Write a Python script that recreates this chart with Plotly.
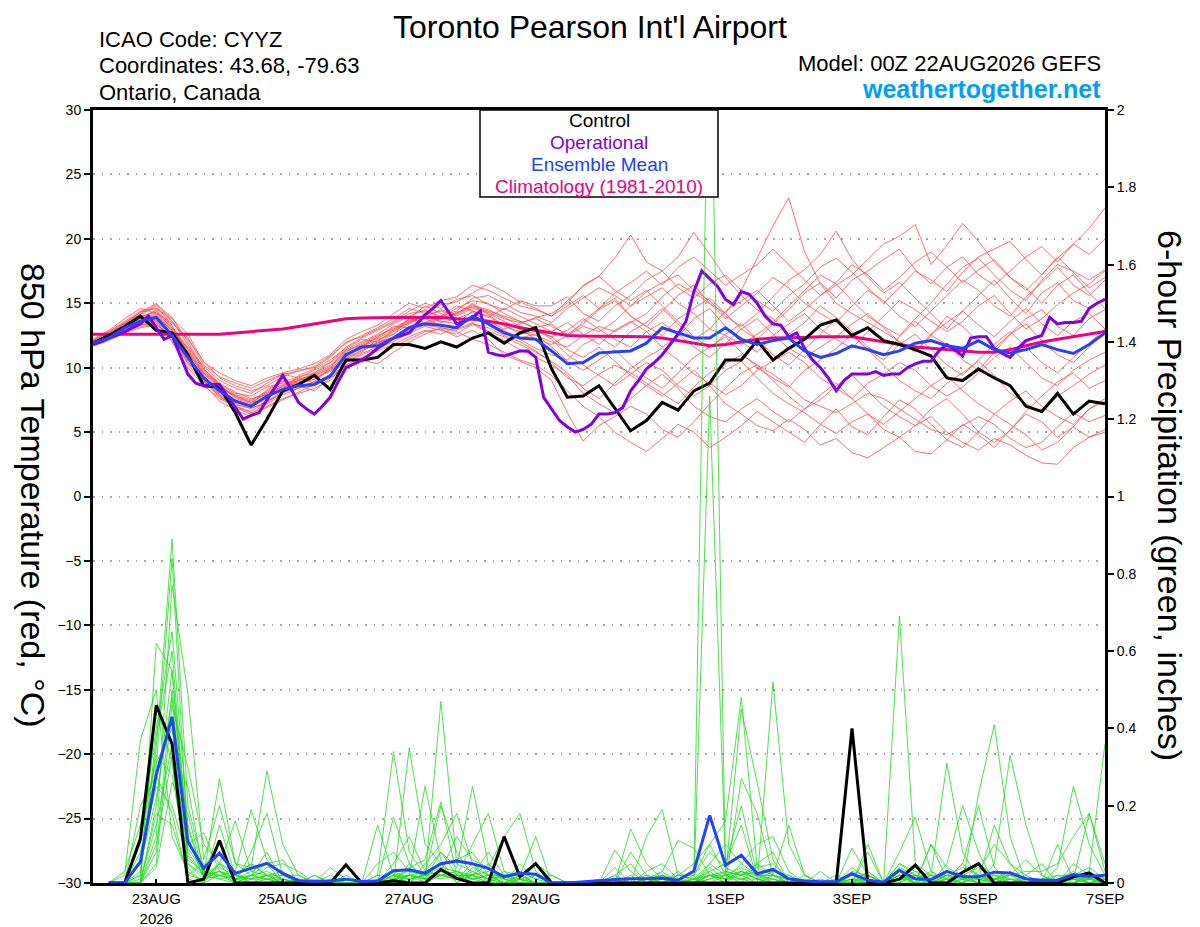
import pandas as pd
import plotly.graph_objects as go

# 6-hourly GEFS steps from 00Z 22AUG2026, operational run is 3-hourly
times = pd.date_range("2026-08-22 00:00", periods=65, freq="6h")
times_3h = pd.date_range("2026-08-22 00:00", periods=129, freq="3h")
precip_times = times[1:]

tick_dates = ["2026-08-23", "2026-08-25", "2026-08-27", "2026-08-29",
              "2026-09-01", "2026-09-03", "2026-09-05", "2026-09-07"]
tick_text = ["23AUG<br>2026", "25AUG", "27AUG", "29AUG", "1SEP", "3SEP", "5SEP", "7SEP"]

control_t = [11.9, 12.5, 13.2, 14.0, 12.9, 12.7, 11.0, 8.6, 8.5, 6.5, 4.0, 6.0, 8.2, 8.7, 9.4, 8.3,
             10.6, 10.6, 10.8, 11.8, 11.8, 11.5, 12.0, 11.6, 12.3, 12.7, 11.9, 12.7, 13.1,
             9.9, 7.7, 7.8, 8.6, 6.9, 5.1, 5.9, 7.3, 6.7, 8.2, 8.8, 10.6, 10.6, 12.1, 10.6, 11.5,
             12.2, 13.3, 13.7, 12.5, 13.1, 12.1, 11.8, 11.4, 10.9, 9.2, 9.0, 9.9, 9.2, 8.6, 7.0,
             6.6, 8.0, 6.4, 7.4, 7.2]

mean_t = [11.9, 12.3, 13.1, 13.6, 13.9, 12.5, 10.8, 9.2, 8.2, 7.4, 7.0, 7.8, 8.3, 8.6, 8.7, 9.35,
          11.0, 11.6, 11.7, 12.3, 13.1, 13.4, 13.3, 13.1, 14.0, 13.4, 12.7, 12.3, 12.2,
          11.3, 10.3, 10.4, 11.15, 11.2, 11.3, 11.9, 13.1, 12.7, 12.3, 12.3, 13.1, 12.2, 11.8,
          12.1, 12.3, 11.3, 10.8, 11.1, 11.7, 11.4, 11.0, 11.3, 11.9, 12.1, 11.7, 11.5, 12.1,
          11.4, 11.15, 11.4, 11.8, 11.4, 11.1, 11.8, 12.7]

oper_t = [11.8, 12.0, 12.3, 12.5, 12.8, 13.1, 13.4, 14.0, 13.1, 12.2,
          12.5, 11.0, 9.5, 8.8, 8.6, 8.7, 8.7, 7.8, 6.9, 6.0,
          6.3, 6.5, 7.5, 8.4, 9.4, 8.4, 7.3, 6.8, 6.4, 7.0,
          7.7, 8.9, 10.0, 10.3, 10.6, 11.0, 11.5, 11.9, 12.3, 12.5,
          12.7, 13.4, 14.1, 14.6, 15.2, 14.3, 13.4, 13.6, 13.9, 14.4,
          11.2, 11.0, 10.9, 11.1, 11.3, 11.3, 10.8, 7.7, 6.8, 5.9,
          5.4, 5.0, 5.2, 5.6, 6.4, 6.4, 6.5, 6.9, 8.2, 9.0,
          9.9, 10.4, 11.0, 11.8, 12.6, 13.6, 15.9, 17.5, 16.9, 16.3,
          15.3, 14.9, 15.9, 15.7, 15.0, 14.0, 13.4, 13.3, 12.4, 12.7,
          11.5, 10.6, 10.0, 9.2, 8.2, 9.0, 9.5, 9.5, 9.5, 9.7,
          9.4, 9.5, 9.5, 10.0, 10.3, 10.5, 10.5, 11.3, 11.8, 11.4,
          10.9, 12.3, 12.4, 12.4, 11.5, 11.1, 10.8, 11.5, 12.1, 12.3,
          12.5, 13.9, 13.4, 13.5, 13.5, 13.6, 14.6, 15.0, 15.3]

clim_t = [12.6, 12.6, 12.6, 12.6, 12.6, 12.6, 12.6, 12.6, 12.6, 12.7, 12.8, 12.9, 13.0, 13.2,
          13.4, 13.6, 13.8, 13.85, 13.9, 13.9, 13.9, 13.9, 13.9, 13.8, 13.75, 13.6, 13.4, 13.1,
          12.9, 12.7, 12.5, 12.45, 12.45, 12.45, 12.45, 12.4, 12.3, 12.1, 11.9, 11.7, 11.8,
          12.0, 12.2, 12.3, 12.3, 12.35, 12.4, 12.4, 12.4, 12.2, 12.0, 11.8, 11.6, 11.5, 11.4,
          11.3, 11.2, 11.2, 11.4, 11.7, 12.0, 12.2, 12.4, 12.6, 12.8]

# ensemble members, 850 hPa temperature: 22-25 Aug, 26-29 Aug, 29 Aug-7 Sep
members_early = [
    [11.9, 12.6, 13.4, 14.3, 15.0, 13.6, 11.8, 9.8, 8.6, 7.8, 7.4, 8.2, 8.9, 9.3, 9.6, 10.4],
    [11.8, 12.2, 12.8, 13.3, 13.5, 12.1, 10.3, 8.7, 7.4, 6.7, 6.2, 7.0, 7.6, 8.0, 8.4, 9.0],
    [12.0, 12.5, 13.2, 13.9, 14.4, 13.0, 11.2, 9.5, 8.4, 7.8, 7.3, 8.0, 8.5, 8.8, 9.1, 9.8],
    [12.1, 12.8, 13.6, 14.4, 14.6, 13.8, 12.6, 10.4, 9.6, 9.0, 8.6, 9.2, 9.6, 9.9, 10.3, 11.0],
    [11.7, 12.1, 12.7, 13.1, 13.3, 12.5, 10.8, 9.0, 7.9, 7.0, 6.6, 7.4, 8.2, 8.6, 8.2, 9.2],
    [11.9, 12.4, 13.0, 13.7, 14.0, 12.9, 11.5, 9.9, 8.8, 8.1, 7.6, 7.9, 8.4, 9.0, 9.5, 10.1],
    [12.0, 12.6, 13.5, 14.1, 14.8, 13.3, 11.0, 9.2, 8.0, 7.3, 7.0, 7.7, 8.6, 9.2, 8.8, 9.5],
    [11.8, 12.3, 12.9, 13.5, 13.8, 12.4, 10.6, 9.3, 8.3, 7.5, 7.1, 8.3, 9.0, 8.5, 8.9, 10.0],
    [12.2, 12.9, 13.8, 14.6, 14.2, 13.5, 12.2, 10.5, 9.2, 8.6, 8.2, 8.6, 9.3, 9.8, 10.0, 10.8],
    [11.9, 12.5, 13.1, 13.6, 13.9, 12.6, 10.9, 9.1, 7.9, 7.2, 6.8, 7.4, 8.0, 8.7, 9.3, 9.7],
    [12.0, 12.4, 13.2, 13.8, 14.5, 13.2, 11.4, 9.7, 8.7, 7.6, 7.2, 7.8, 8.3, 9.4, 9.9, 10.6],
    [11.8, 12.3, 12.8, 13.4, 13.7, 12.0, 10.0, 8.6, 7.6, 7.0, 6.5, 6.9, 7.5, 8.1, 8.7, 9.4],
    [12.1, 12.7, 13.4, 14.0, 14.3, 13.1, 11.6, 10.1, 9.0, 8.4, 8.0, 8.8, 9.5, 9.2, 9.8, 10.4],
    [11.9, 12.5, 13.3, 14.2, 14.9, 13.9, 12.0, 9.9, 8.7, 8.0, 7.8, 8.5, 8.8, 9.1, 9.4, 9.9],
    [11.8, 12.2, 12.8, 13.2, 13.4, 12.3, 10.5, 8.9, 7.8, 6.9, 6.4, 7.3, 8.1, 8.4, 8.9, 9.3],
    [12.0, 12.6, 13.3, 13.8, 14.2, 12.8, 11.1, 9.6, 8.5, 7.9, 7.5, 8.1, 8.7, 9.0, 9.6, 10.2],
    [11.9, 12.4, 13.0, 13.6, 14.0, 12.7, 11.2, 9.4, 8.1, 7.4, 7.0, 7.6, 8.4, 8.9, 9.1, 9.8],
    [12.1, 12.8, 13.5, 14.3, 14.6, 13.6, 12.3, 10.2, 9.3, 8.8, 8.4, 9.0, 9.5, 9.7, 10.1, 10.9],
    [11.8, 12.3, 12.9, 13.3, 13.6, 12.3, 10.4, 9.0, 7.7, 7.1, 6.9, 7.2, 7.9, 8.4, 8.6, 9.4],
    [12.0, 12.5, 13.1, 13.7, 14.1, 12.9, 11.3, 9.6, 8.6, 7.7, 7.3, 8.0, 8.6, 9.0, 9.4, 10.0],
]
members_mid = [
    [11.4, 12.0, 12.6, 13.4, 14.0, 14.5, 13.8, 14.2, 15.0, 14.2, 13.6, 13.0, 12.2],
    [10.4, 11.0, 11.5, 12.0, 12.7, 13.2, 12.9, 12.6, 13.4, 13.1, 12.5, 12.0, 11.3],
    [11.0, 11.7, 12.1, 12.8, 13.5, 14.0, 13.6, 13.4, 14.4, 14.0, 13.2, 12.8, 12.5],
    [12.2, 12.8, 13.3, 14.2, 15.0, 14.6, 15.2, 15.5, 16.4, 16.0, 15.4, 14.8, 14.5],
    [10.0, 10.4, 10.8, 11.6, 12.2, 12.8, 13.0, 12.4, 12.9, 12.2, 11.0, 10.5, 10.0],
    [11.2, 11.9, 12.5, 13.0, 13.6, 14.1, 14.4, 14.0, 14.6, 14.3, 13.8, 13.5, 13.8],
    [10.6, 11.4, 12.0, 12.3, 13.0, 13.4, 13.9, 14.6, 15.2, 15.0, 14.2, 13.6, 13.0],
    [11.1, 11.5, 11.9, 12.6, 13.8, 14.8, 14.2, 13.6, 13.9, 13.4, 12.9, 12.2, 11.5],
    [12.0, 12.4, 13.0, 13.6, 14.4, 15.0, 14.6, 15.3, 15.6, 14.9, 14.5, 15.2, 14.8],
    [10.8, 11.3, 11.9, 12.4, 13.2, 13.8, 13.3, 13.0, 13.5, 12.8, 12.4, 11.8, 11.2],
    [11.5, 12.2, 12.0, 12.9, 13.8, 13.5, 14.0, 14.8, 14.4, 13.9, 14.6, 14.0, 13.4],
    [10.2, 10.8, 11.3, 11.8, 12.4, 12.9, 12.6, 13.2, 13.8, 13.4, 12.8, 12.3, 12.6],
    [11.6, 12.3, 12.9, 13.5, 14.2, 14.4, 14.0, 14.4, 15.4, 15.6, 15.0, 14.3, 14.0],
    [10.9, 11.6, 12.4, 13.1, 13.7, 13.3, 13.8, 14.2, 14.9, 14.1, 13.3, 12.6, 12.8],
    [10.1, 10.6, 10.3, 11.2, 12.0, 12.6, 13.1, 12.8, 12.2, 11.8, 11.2, 10.6, 10.2],
    [11.3, 11.8, 12.4, 13.2, 13.1, 13.9, 14.5, 14.1, 14.8, 14.5, 13.9, 13.2, 12.9],
    [10.7, 11.2, 12.2, 12.6, 13.4, 14.2, 13.5, 13.8, 14.3, 13.6, 13.0, 13.4, 13.9],
    [11.9, 12.5, 13.1, 13.8, 14.6, 14.2, 14.9, 15.1, 15.8, 16.5, 15.9, 15.1, 14.6],
    [10.5, 11.1, 11.6, 12.2, 12.9, 13.3, 13.1, 12.9, 13.4, 12.7, 12.1, 11.4, 10.8],
    [11.4, 11.7, 12.3, 12.9, 13.5, 14.0, 13.7, 14.3, 14.7, 14.4, 14.0, 13.6, 13.1],
]
members_late = [
    [11.8, 12.5, 13.2, 12.8, 13.6, 14.8, 15.5, 16.2, 15.0, 14.2, 13.0, 12.5, 11.8, 12.6, 13.5, 14.8, 16.0, 17.2,
     16.5, 15.2, 14.0, 13.2, 12.5, 13.8, 15.0, 16.5, 17.8, 18.5, 17.2, 16.0, 15.2, 16.8, 18.0, 17.5, 16.8, 17.6],
    [10.4, 9.2, 8.6, 9.5, 10.2, 9.6, 8.8, 8.0, 7.2, 8.5, 9.6, 10.3, 11.0, 10.2, 9.5, 8.6, 7.5, 7.0,
     6.5, 7.2, 8.0, 7.6, 6.8, 6.0, 5.2, 4.8, 5.5, 6.2, 5.6, 4.5, 3.8, 4.2, 5.4, 6.5, 5.8, 6.3],
    [12.0, 11.6, 12.5, 13.2, 12.8, 13.5, 14.2, 15.5, 16.5, 15.8, 15.0, 14.2, 16.0, 18.5, 21.0, 23.2, 19.0, 16.5,
     15.0, 14.2, 13.5, 12.8, 12.0, 11.2, 12.5, 14.0, 13.2, 12.0, 11.5, 12.6, 13.8, 14.5, 13.2, 12.5, 13.8, 14.5],
    [14.0, 15.2, 16.3, 17.1, 18.5, 20.3, 18.2, 17.5, 18.6, 20.5, 18.8, 17.0, 15.6, 14.5, 13.8, 12.6, 13.5, 14.8,
     13.9, 12.8, 11.6, 10.9, 12.4, 13.6, 12.5, 11.8, 10.6, 9.8, 11.2, 12.6, 13.4, 12.1, 11.0, 10.4, 11.6, 12.8],
    [9.0, 6.5, 4.3, 5.5, 6.2, 7.0, 6.4, 5.2, 4.6, 5.8, 7.2, 8.4, 9.6, 10.2, 9.0, 7.8, 6.8, 7.5,
     8.6, 9.4, 8.2, 7.0, 6.2, 5.5, 6.8, 7.6, 6.4, 5.0, 4.2, 5.1, 6.6, 7.8, 8.9, 9.6, 8.4, 9.0],
    [13.2, 12.6, 13.4, 14.5, 15.2, 14.0, 13.2, 12.5, 13.8, 14.6, 15.4, 14.2, 13.0, 12.2, 13.4, 14.5, 15.8, 16.6,
     15.4, 16.8, 17.5, 18.4, 19.2, 17.6, 16.5, 17.8, 18.6, 17.2, 16.4, 17.5, 18.6, 19.4, 18.2, 19.6, 20.8, 22.4],
    [12.2, 11.0, 10.2, 9.4, 8.6, 9.5, 10.4, 9.8, 8.6, 7.8, 8.6, 9.8, 10.5, 9.2, 8.0, 7.2, 6.5, 5.6,
     4.9, 5.8, 6.4, 5.2, 4.6, 5.5, 6.2, 5.0, 4.2, 3.6, 4.5, 4.0, 3.2, 2.6, 2.5, 3.8, 4.6, 5.2],
    [11.0, 10.6, 11.8, 12.4, 11.6, 12.8, 13.5, 14.6, 13.4, 12.2, 13.0, 14.4, 15.2, 16.0, 14.8, 13.6, 14.5, 15.6,
     16.4, 17.2, 18.4, 19.6, 20.2, 21.1, 18.0, 19.5, 21.2, 19.8, 18.2, 17.0, 16.2, 15.0, 16.4, 17.2, 15.8, 14.6],
    [14.8, 15.5, 14.2, 13.6, 14.8, 15.6, 16.8, 17.5, 16.2, 15.4, 16.5, 17.2, 16.0, 15.2, 14.4, 15.6, 16.5, 17.8,
     18.5, 17.4, 16.2, 15.0, 16.2, 17.5, 16.8, 15.9, 17.4, 18.6, 19.2, 19.8, 18.4, 17.2, 18.5, 19.6, 18.8, 20.0],
    [10.5, 9.6, 8.4, 7.6, 8.8, 9.9, 10.8, 11.5, 10.6, 9.5, 8.8, 7.9, 8.6, 9.8, 10.5, 11.2, 10.4, 9.2,
     8.4, 7.6, 8.8, 9.5, 10.4, 9.8, 8.6, 7.8, 8.5, 9.6, 10.8, 11.6, 10.4, 9.2, 8.6, 9.8, 10.6, 11.2],
    [12.8, 13.5, 12.6, 11.8, 12.9, 13.6, 12.8, 11.6, 12.4, 13.8, 14.6, 13.2, 12.0, 11.2, 12.5, 13.4, 14.2, 13.0,
     12.2, 11.5, 12.8, 14.0, 15.2, 14.5, 13.6, 12.8, 13.6, 14.8, 15.6, 14.2, 13.0, 13.8, 14.9, 15.8, 16.5, 17.5],
    [11.6, 10.5, 9.8, 10.6, 11.4, 10.2, 9.2, 8.4, 9.6, 10.8, 11.6, 12.4, 11.2, 10.0, 9.2, 8.5, 9.8, 10.6,
     11.5, 12.6, 11.4, 10.2, 9.0, 8.2, 7.6, 8.8, 9.6, 10.5, 9.4, 8.0, 7.2, 6.5, 7.8, 8.6, 9.5, 10.2],
    [13.5, 14.6, 15.4, 16.2, 15.6, 14.8, 15.9, 16.6, 17.2, 16.0, 15.2, 14.0, 13.2, 14.2, 15.5, 16.8, 17.6, 18.8,
     20.6, 18.4, 17.0, 15.8, 16.6, 15.4, 14.2, 13.0, 14.4, 15.6, 16.8, 15.4, 14.2, 15.8, 16.6, 15.2, 14.6, 15.4],
    [12.4, 11.4, 10.8, 11.6, 10.5, 9.4, 8.6, 7.8, 8.8, 9.8, 8.6, 7.2, 6.4, 5.5, 5.1, 6.0, 5.2, 4.0,
     4.5, 3.4, 3.0, 3.8, 4.6, 3.5, 3.3, 4.4, 5.6, 4.8, 3.8, 5.2, 6.4, 5.8, 4.6, 5.4, 6.8, 7.6],
    [9.4, 8.2, 7.0, 6.2, 5.0, 4.2, 3.5, 4.5, 5.6, 5.0, 3.8, 4.6, 5.5, 6.6, 5.8, 5.0, 4.2, 5.6,
     6.8, 5.4, 4.8, 6.2, 7.5, 6.8, 5.6, 4.4, 3.8, 5.0, 6.4, 5.6, 4.8, 3.6, 4.2, 5.4, 4.6, 5.0],
    [12.4, 12.9, 13.8, 13.0, 12.2, 11.6, 12.8, 13.5, 12.6, 11.6, 10.8, 11.9, 13.0, 13.8, 12.6, 11.5, 10.8, 11.6,
     12.4, 13.4, 14.2, 13.1, 12.0, 11.3, 12.6, 13.5, 14.4, 13.3, 12.4, 13.6, 14.6, 13.4, 12.5, 13.6, 14.2, 13.0],
    [14.2, 15.0, 16.4, 17.1, 16.0, 15.2, 16.0, 14.8, 13.6, 12.4, 11.5, 12.6, 13.4, 12.2, 11.0, 10.2, 11.4, 12.6,
     13.8, 12.5, 11.4, 10.6, 11.8, 12.6, 11.4, 10.2, 9.4, 10.6, 11.8, 12.8, 11.6, 10.4, 9.6, 10.8, 11.9, 13.0],
    [14.0, 14.8, 15.6, 14.6, 15.8, 16.6, 17.5, 16.4, 17.8, 18.6, 17.5, 16.4, 17.2, 18.0, 19.2, 18.0, 16.8, 15.6,
     16.6, 18.0, 17.2, 16.0, 17.0, 18.2, 19.0, 17.8, 16.6, 17.6, 18.4, 17.0, 16.0, 17.2, 18.6, 17.4, 16.2, 17.0],
    [10.2, 9.4, 8.0, 7.2, 6.5, 7.6, 8.6, 9.5, 8.4, 7.0, 6.2, 5.8, 6.8, 7.6, 6.6, 5.8, 6.8, 7.9,
     8.8, 7.6, 6.4, 5.6, 6.6, 7.6, 8.6, 9.4, 8.2, 7.2, 6.4, 7.4, 8.2, 7.0, 6.2, 5.6, 6.8, 7.4],
    [13.4, 12.4, 13.6, 14.6, 15.4, 14.0, 13.2, 14.4, 15.6, 16.4, 15.0, 13.8, 14.8, 15.8, 17.0, 16.2, 15.0, 14.2,
     13.5, 14.8, 16.0, 15.2, 14.0, 13.2, 14.4, 15.6, 16.8, 16.0, 14.8, 14.0, 15.5, 16.6, 17.8, 16.4, 15.6, 16.8],
]

# 6-hour precipitation (inches), 06Z 22AUG .. 00Z 7SEP
control_p = [0, 0, .115, .46, .36, 0, .01, .11, 0, 0, 0, 0, 0, 0, 0, .047,
             0, 0, .006, 0, 0, .035, .012, 0, 0, .12, .016, .05, 0, 0, 0, 0,
             0, 0, 0, 0, 0, 0, 0, 0, 0, 0, 0, 0, 0, 0, 0, .40,
             0, 0, .01, .046, 0, 0, .028, .05, 0, 0, 0, 0, 0, .016, .026, 0]
mean_p = [0, 0, .055, .28, .43, .107, .038, .077, .025, .038, .051, .025, .006, .004, .005, .01,
          .004, .005, .032, .034, .025, .05, .057, .05, .038, .016, .025, .023, 0, 0, .003, .007,
          .009, .011, .011, .013, .007, .031, .175, .046, .072, .024, .035, .011, .005, .003, .003, .024,
          .007, .002, .033, .011, .009, .03, .017, .016, .028, .026, .011, .007, .007, .022, .017, .02]
members_p = [
    [0, 0, .02, .35, .89, .20, .04, .10, .02, 0, 0, .01, 0, 0, 0, 0,
     0, 0, .05, .12, .03, .08, .02, 0, 0, .03, 0, 0, 0, 0, 0, 0,
     .02, .05, 0, 0, .01, .03, 2.4, .02, 0, .05, .08, 0, 0, 0, 0, .02,
     0, 0, .05, .02, 0, .01, 0, .03, .10, .05, 0, 0, 0, .02, 0, 0],
    [0, 0, 0, .62, .55, .05, .02, .27, .05, .02, .08, 0, 0, 0, 0, 0,
     0, 0, 0, .02, .01, .47, .05, .03, .01, 0, 0, .02, 0, 0, 0, 0,
     0, 0, .01, .02, 0, 0, 1.26, .05, .20, .02, 0, 0, 0, 0, 0, 0,
     .03, 0, 0, .05, .02, .31, .08, .01, 0, 0, 0, 0, 0, .05, .02, .01],
    [0, .02, .37, .50, .12, .03, 0, .05, .03, .19, .06, .02, 0, 0, 0, 0,
     0, 0, 0, .35, .10, .05, 0, .02, 0, 0, .05, .01, 0, 0, 0, 0,
     0, 0, 0, 0, .02, .05, .10, .16, .48, .04, .02, .01, 0, 0, 0, .01,
     0, 0, .69, .05, 0, 0, .02, 0, .05, .33, .15, .02, 0, 0, .02, 0],
    [0, 0, .05, .30, .84, .10, .13, .03, 0, .02, .01, 0, .01, 0, 0, 0,
     0, .02, .34, .08, .02, .20, .08, .02, 0, 0, 0, 0, 0, 0, 0, 0,
     .085, .03, 0, .01, 0, 0, .05, .02, .45, .26, .06, 0, 0, 0, 0, .09,
     .02, 0, 0, 0, 0, .05, .20, .08, 0, 0, .01, 0, .04, .25, .10, .02],
    [0, 0, 0, .12, .77, .49, .06, .20, .05, .04, .29, .10, .02, 0, 0, 0,
     0, 0, 0, .02, .25, .06, 0, .04, .02, 0, .02, .12, 0, 0, 0, 0,
     0, .14, .05, .01, 0, 0, .04, .01, .02, 0, .52, .10, .02, 0, 0, 0,
     0, 0, .02, 0, 0, 0, 0, .23, .41, .12, 0, 0, 0, 0, .03, .36],
    [0, 0, .10, .40, .65, .15, .02, .05, .16, .03, .05, 0, 0, .02, 0, 0,
     0, .15, .02, 0, .05, .10, .18, .05, 0, 0, 0, 0, 0, 0, 0, 0,
     0, 0, .12, .19, .02, .01, .03, 0, .27, .18, .02, .15, .02, 0, 0, 0,
     .10, 0, .08, .17, .03, .01, 0, .05, .02, 0, 0, 0, .10, .01, .18, .05],
    [0, 0, .03, .46, .31, .02, .05, .01, .02, .05, .02, 0, 0, 0, 0, 0,
     0, 0, .17, .05, .01, .08, .04, .25, .05, 0, 0, 0, 0, 0, 0, 0,
     0, 0, 0, .03, .11, .09, .02, 0, .03, .01, 0, 0, 0, .03, 0, .03,
     .02, 0, .02, 0, .10, .04, .02, .01, .15, .05, .02, .05, 0, .01, 0, 0],
    [0, 0, 0, .05, .46, .30, .10, .05, .02, .01, .04, .05, .03, 0, .04, .01,
     0, 0, 0, .04, .06, .21, .02, .10, .18, .03, .02, 0, 0, 0, 0, 0,
     .04, 0, 0, 0, 0, 0, .02, .01, .05, .10, .12, .03, 0, 0, 0, 0,
     0, 0, .03, 0, .02, 0, .01, 0, 0, .02, .06, .02, 0, 0, .01, .02],
    [0, .03, .15, .31, .40, .04, 0, .15, .02, .05, .02, 0, 0, 0, 0, 0,
     0, 0, 0, .02, 0, .03, .12, .06, .04, .12, .18, .03, 0, 0, 0, 0,
     0, .02, 0, 0, 0, .02, .10, .02, .03, .01, 0, .02, 0, 0, 0, 0,
     .08, 0, .02, 0, .10, .01, .05, .20, .04, 0, 0, .01, .02, 0, 0, .02],
    [0, 0, 0, .20, .55, .12, .01, .05, 0, .08, .18, .02, 0, 0, 0, 0,
     0, 0, .03, .01, .02, .05, .06, .08, .02, 0, 0, .05, .02, 0, 0, 0,
     0, .08, .02, 0, 0, 0, .03, .05, .15, .01, .03, .02, 0, 0, 0, .04,
     .01, 0, .03, 0, 0, .02, .02, .04, .01, .02, .03, .03, .05, .12, .18, .03],
    [0, 0, .08, .25, .20, .06, .03, .02, 0, .02, .05, .06, 0, 0, 0, 0,
     0, 0, 0, .05, .01, .02, .01, .02, .08, .02, 0, 0, 0, 0, 0, 0,
     0, 0, .03, .05, .01, 0, .02, .03, .02, .05, .02, 0, 0, 0, 0, 0,
     .01, 0, .05, .03, 0, .02, 0, .02, 0, 0, .02, 0, 0, .02, 0, .01],
    [0, 0, .01, .15, .36, .08, .02, .03, .01, .03, .02, .02, .02, 0, 0, 0,
     0, .05, .08, .03, .02, .04, .03, .02, .05, .01, 0, 0, 0, 0, 0, .01,
     0, 0, 0, .02, 0, 0, .01, .02, .01, 0, .02, 0, .02, 0, 0, .01,
     0, 0, .04, .02, 0, 0, 0, .01, .02, .02, 0, 0, .02, .02, .04, .01],
    [0, 0, 0, .04, .26, .18, .02, .01, 0, 0, .02, 0, .01, 0, .02, 0,
     0, .02, .01, 0, .03, .02, .01, .05, .02, .02, .03, .01, .02, 0, 0, 0,
     0, .01, .02, .01, .02, .01, .05, .10, .05, .02, .01, 0, 0, 0, .02, 0,
     .02, 0, .01, .03, .02, .02, .04, .02, 0, 0, .01, 0, .01, .01, 0, .01],
    [0, 0, .20, .28, .18, .01, 0, .02, .03, 0, 0, 0, 0, .02, 0, 0,
     0, 0, .02, .03, 0, .02, .01, .03, .01, 0, .02, 0, 0, 0, 0, 0,
     .01, 0, 0, 0, .02, .02, .08, .04, .02, .03, 0, 0, 0, .01, 0, 0,
     0, 0, .02, .01, 0, .03, .01, 0, .02, .01, 0, .01, 0, .02, .01, 0],
    [0, 0, .02, .38, .60, .09, .03, .08, .01, .02, .03, .01, 0, 0, 0, 0,
     0, 0, .02, .01, .02, .03, .01, .01, 0, .02, .01, .02, 0, 0, 0, 0,
     0, 0, .01, .03, 0, .01, .02, .01, .03, .02, .02, .01, 0, 0, 0, 0,
     .03, 0, .01, .02, .01, .02, .01, .01, .01, .03, .01, 0, 0, 0, .02, 0],
    [0, 0, 0, .10, .33, .25, .02, .04, .02, .01, .02, .03, 0, 0, 0, 0,
     0, 0, .01, .02, .03, .02, .02, .01, .02, .01, 0, 0, 0, 0, 0, 0,
     .02, 0, 0, 0, 0, 0, .01, .03, .02, .04, .05, .01, .01, 0, 0, 0,
     0, 0, .01, 0, .02, .01, .05, .02, .01, 0, 0, 0, .01, .03, 0, 0],
    [0, 0, .05, .22, .48, .07, .02, .02, .01, .01, .01, .02, .01, 0, 0, 0,
     0, 0, .02, .02, .01, .03, .02, .02, .01, .02, .02, 0, 0, 0, 0, 0,
     0, 0, 0, 0, .03, 0, .02, .01, .03, .01, .01, 0, 0, 0, 0, .01,
     .01, 0, .01, .01, 0, .01, .02, .01, 0, .01, 0, 0, 0, .01, .01, 0],
    [0, 0, 0, .18, .15, .02, .01, .03, .01, 0, .01, 0, 0, .01, 0, 0,
     0, .01, 0, .01, .02, .01, .02, .02, .03, .01, .01, 0, 0, 0, 0, 0,
     0, .01, .01, 0, 0, .01, 0, .02, .01, .01, 0, .01, 0, 0, 0, 0,
     0, 0, .01, .01, .03, 0, .01, .02, .01, 0, 0, .01, 0, .01, .02, .02],
    [0, 0, .12, .33, .28, .05, .01, .02, .01, .02, .01, .01, 0, 0, .01, 0,
     0, 0, .01, .02, .01, .02, .03, .01, .02, 0, .01, 0, 0, 0, 0, 0,
     0, 0, 0, .01, 0, .01, .02, .01, .01, .02, .01, 0, 0, 0, .01, 0,
     0, 0, .02, .01, .01, 0, .02, 0, .01, .01, .01, 0, 0, 0, .01, .01],
    [0, 0, 0, .08, .50, .14, .02, .03, .02, .01, .02, .01, 0, 0, 0, .02,
     0, 0, .02, .01, .02, .02, .03, .01, .02, .02, .01, 0, 0, 0, 0, 0,
     0, 0, 0, .02, .01, 0, .02, .02, .04, .02, .02, .01, 0, 0, 0, .02,
     .02, 0, 0, .02, .01, .03, .01, .02, .01, .02, .01, 0, .01, .02, .01, .01],
]

FONT = "Liberation Sans, Arial, Helvetica, sans-serif"
RED = "rgb(255,75,75)"
GREEN = "rgb(30,220,30)"
PURPLE = "rgb(130,0,225)"
BLUE = "rgb(35,65,255)"
PINK = "rgb(240,0,130)"

fig = go.Figure()

for e, m, l in zip(members_early, members_mid, members_late):
    vals = e + m + l
    fig.add_trace(go.Scatter(x=times[:len(vals)], y=vals, mode="lines",
                             line=dict(color=RED, width=0.8), hoverinfo="skip"))

for p in members_p:
    fig.add_trace(go.Scatter(x=precip_times[:len(p)], y=p, mode="lines", yaxis="y2",
                             line=dict(color=GREEN, width=0.8), hoverinfo="skip"))

fig.add_trace(go.Scatter(x=precip_times, y=control_p, mode="lines", yaxis="y2",
                         line=dict(color="black", width=3)))
fig.add_trace(go.Scatter(x=precip_times, y=mean_p, mode="lines", yaxis="y2",
                         line=dict(color=BLUE, width=3)))

fig.add_trace(go.Scatter(x=times, y=clim_t, mode="lines", line=dict(color=PINK, width=3)))
fig.add_trace(go.Scatter(x=times, y=control_t, mode="lines", line=dict(color="black", width=3)))
fig.add_trace(go.Scatter(x=times_3h[:len(oper_t)], y=oper_t, mode="lines",
                         line=dict(color=PURPLE, width=3)))
fig.add_trace(go.Scatter(x=times, y=mean_t, mode="lines", line=dict(color=BLUE, width=3)))


# screen pixel -> paper coords (plot area spans x 93..1105, y 110..883 on screen)
def px_x(px):
    return (px - 93) / 1012


def px_y(py):
    return (883 - py) / 773


annotations = [
    dict(text="Toronto Pearson Int'l Airport", x=px_x(590), y=px_y(7), yanchor="top",
         font=dict(size=32)),
    dict(text="ICAO Code: CYYZ", x=px_x(97), y=px_y(40), xanchor="left", font=dict(size=22)),
    dict(text="Coordinates: 43.68, -79.63", x=px_x(97), y=px_y(66), xanchor="left", font=dict(size=22)),
    dict(text="Ontario, Canada", x=px_x(97), y=px_y(93), xanchor="left", font=dict(size=22)),
    dict(text="Model: 00Z 22AUG2026 GEFS", x=px_x(1103), y=px_y(63), xanchor="right", font=dict(size=22)),
    dict(text="<b>weathertogether.net</b>", x=px_x(1103), y=px_y(89), xanchor="right",
         font=dict(size=25, color="rgb(0,160,245)")),
    dict(text="Control", x=0.5, y=px_y(121), font=dict(size=19)),
    dict(text="Operational", x=0.5, y=px_y(142), font=dict(size=19, color=PURPLE)),
    dict(text="Ensemble Mean", x=0.5, y=px_y(164), font=dict(size=19, color=BLUE)),
    dict(text="Climatology (1981-2010)", x=0.5, y=px_y(186), font=dict(size=19, color=PINK)),
    dict(text="850 hPa Temperature (red, °C)", x=px_x(33), y=px_y(495), textangle=90,
         font=dict(size=34)),
    dict(text="6-hour Precipitation (green, inches)", x=px_x(1170), y=px_y(495), textangle=90,
         font=dict(size=34)),
]
for a in annotations:
    a.setdefault("xanchor", "center")
    a.setdefault("yanchor", "middle")
    a.update(xref="paper", yref="paper", showarrow=False)
    a["font"] = dict(family=FONT, color=a["font"].get("color", "black"), size=a["font"]["size"])

# page body has an 8px margin, so the figure is 8px smaller than the window
fig.update_layout(
    width=1192, height=919,
    margin=dict(l=85, r=95, t=102, b=44),
    paper_bgcolor="white", plot_bgcolor="white",
    showlegend=False,
    font=dict(family=FONT, color="black", size=13),
    annotations=annotations,
    shapes=[dict(type="rect", xref="paper", yref="paper", x0=px_x(480), x1=px_x(718),
                 y0=px_y(197), y1=1.0, fillcolor="white", line=dict(color="black", width=1.5),
                 layer="above")],
    xaxis=dict(range=[times[0], times[-1]], tickvals=tick_dates, ticktext=tick_text,
               showgrid=False, showline=True, linecolor="black", linewidth=3, mirror=True,
               ticks="inside", ticklen=4, tickwidth=1.5, tickcolor="black",
               tickfont=dict(size=15), zeroline=False, automargin=False),
    yaxis=dict(range=[-30, 30], dtick=5, showline=True, linecolor="black", linewidth=3,
               ticks="outside", ticklen=6, tickwidth=1.5, tickcolor="black",
               showgrid=True, gridcolor="rgb(165,165,165)", griddash="1.5px,7px", gridwidth=1.5,
               zeroline=False, tickfont=dict(size=14), automargin=False),
    yaxis2=dict(range=[0, 2], dtick=0.2, overlaying="y", side="right", showline=True,
                linecolor="black", linewidth=3, ticks="outside", ticklen=6, tickwidth=1.5,
                tickcolor="black", showgrid=False, zeroline=False, tickfont=dict(size=14),
                automargin=False),
)

fig.write_html("out.html")
